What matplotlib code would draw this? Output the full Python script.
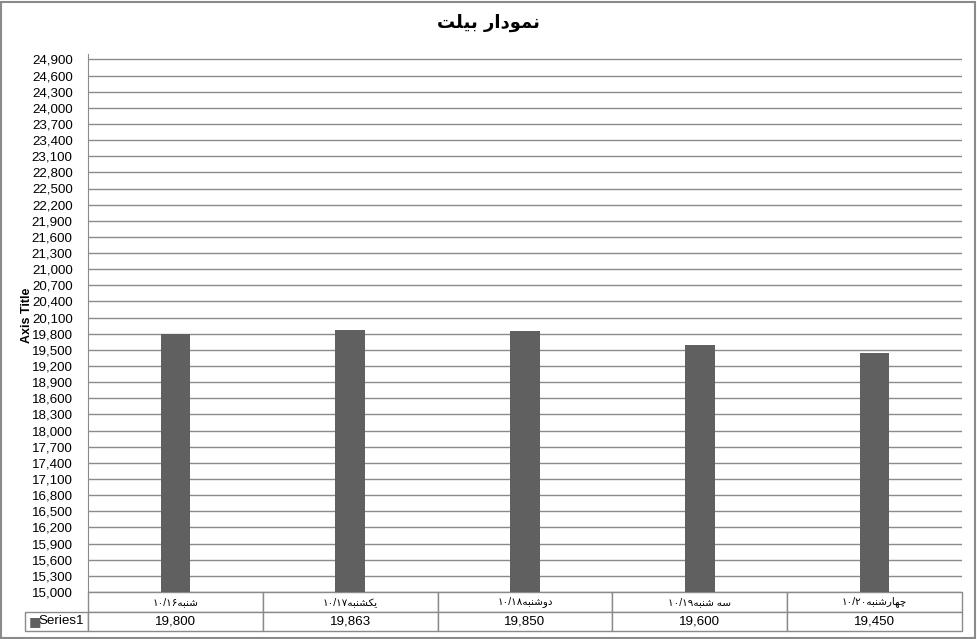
import unicodedata
import numpy as np
import matplotlib
matplotlib.use('Agg')
import matplotlib.pyplot as plt
from matplotlib.table import Table
from matplotlib.patches import Rectangle

# داده ها
days = ['شنبه', 'یکشنبه', 'دوشنبه', 'سه شنبه', 'چهارشنبه']
dates = ['۱۰/۱۶', '۱۰/۱۷', '۱۰/۱۸', '۱۰/۱۹', '۱۰/۲۰']
values = [19800, 19863, 19850, 19600, 19450]
series_name = 'Series1'
title = 'نمودار بیلت'
y_label = 'Axis Title'

bar_color = '#606060'
line_color = '#8a8a8a'
fonts = ['Liberation Sans', 'DejaVu Sans']

# matplotlib does no arabic shaping, so pick the presentation forms by hand
right_only = set('اآأإدذرزژو')


def is_ar(c):
    return '\u0621' <= c <= '\u06d3'


def shape(word):
    out = []
    for i, c in enumerate(word):
        if not is_ar(c):
            out.append(c)
            continue
        prev = word[i - 1] if i > 0 else ''
        nxt = word[i + 1] if i + 1 < len(word) else ''
        jp = prev != '' and is_ar(prev) and prev not in right_only
        jn = c not in right_only and nxt != '' and is_ar(nxt)
        form = {(True, True): 'MEDIAL', (True, False): 'FINAL',
                (False, True): 'INITIAL', (False, False): 'ISOLATED'}[(jp, jn)]
        try:
            out.append(unicodedata.lookup(unicodedata.name(c) + ' ' + form + ' FORM'))
        except KeyError:
            out.append(c)
    return ''.join(out)


def rtl(word):
    return shape(word)[::-1]


labels = [d + rtl(w) for w, d in zip(days, dates)]

fig = plt.figure(figsize=(9.77, 6.39), dpi=100)
ax = fig.add_axes([88 / 977, 47 / 639, 874 / 977, 538 / 639])

x = np.arange(len(values))
ax.bar(x, values, width=0.17, color=bar_color, zorder=3)
ax.set_xlim(-0.5, len(values) - 0.5)
ax.set_ylim(15000, 25000)
ax.set_yticks(np.arange(15000, 25000, 300))
ax.set_yticklabels(['{:,}'.format(v) for v in np.arange(15000, 25000, 300)],
                   fontfamily=fonts, fontsize=9.6)
ax.tick_params(axis='y', length=0, pad=11)
ax.set_xticks([])
ax.yaxis.grid(True, color=line_color, lw=1)
ax.set_axisbelow(True)
for s in ['top', 'right', 'bottom']:
    ax.spines[s].set_visible(False)
ax.spines['left'].set_color(line_color)

fig.text(27 / 977, 1 - 315 / 639, y_label, rotation=90, ha='center', va='center',
         fontsize=9, fontweight='bold', fontfamily=fonts)
fig.text(0.5, 1 - 23 / 639, rtl(title), ha='center', va='center',
         fontsize=13, fontweight='bold', fontfamily=['DejaVu Sans'])

# data table under the axis
tbl = Table(ax, bbox=[-63 / 874, -39 / 538, 1 + 63 / 874, 39 / 538])
widths = [63] + [175] * len(values)
for j, w in enumerate(widths):
    if j == 0:
        c = tbl.add_cell(0, j, w, 1, text='', loc='center')
        c.visible_edges = 'open'
        c = tbl.add_cell(1, j, w, 1, text=series_name, loc='right')
    else:
        tbl.add_cell(0, j, w, 1, text=labels[j - 1], loc='center')
        c = tbl.add_cell(1, j, w, 1, text='{:,}'.format(values[j - 1]), loc='center')
tbl.auto_set_font_size(False)
for (r, j), c in tbl.get_celld().items():
    c.set_edgecolor(line_color)
    c.set_linewidth(1)
    c.PAD = 0.06
    c.get_text().set_fontfamily(fonts)
    c.get_text().set_fontsize(7.5 if r == 0 else 9.6)
ax.add_table(tbl)
ax.text(-59 / 874, -30 / 538, '■', transform=ax.transAxes, ha='left', va='center',
        color=bar_color, fontsize=9.5, fontfamily=['DejaVu Sans'])

fig.patches.append(Rectangle((1 / 977, 1 / 639), 974 / 977, 636 / 639, transform=fig.transFigure,
                             fill=False, ec=line_color, lw=1.5))

fig.savefig('out.png', dpi=100)
